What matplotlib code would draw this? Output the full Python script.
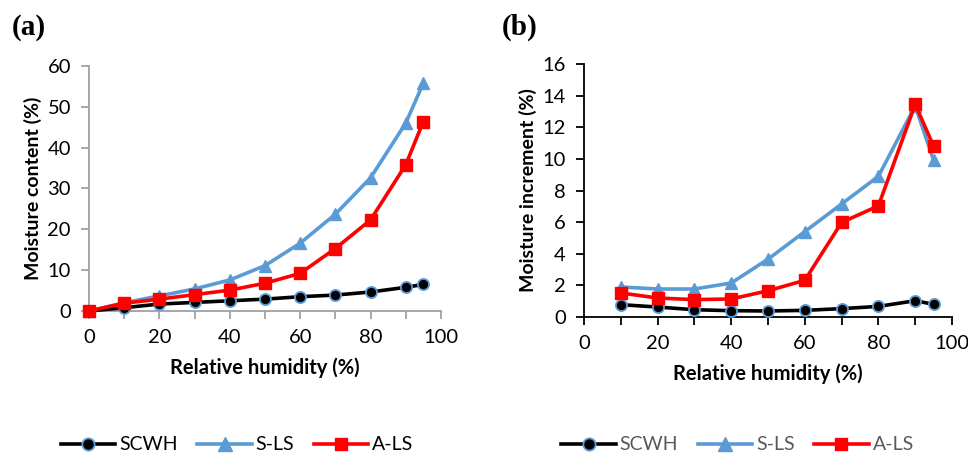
import matplotlib.pyplot as plt
from matplotlib.ticker import MultipleLocator

plt.rcParams['font.family'] = ['Lato', 'DejaVu Sans']

rh_a = [0, 10, 20, 30, 40, 50, 60, 70, 80, 90, 95]
scwh_a = [0, 0.8, 1.7, 2.1, 2.5, 2.9, 3.5, 3.9, 4.65, 5.8, 6.5]
sls_a = [0, 2.0, 3.7, 5.4, 7.6, 11.1, 16.6, 23.7, 32.6, 46.0, 55.8]
als_a = [0, 1.9, 2.9, 4.0, 5.1, 6.8, 9.2, 15.3, 22.3, 35.8, 46.4]

rh_b = [10, 20, 30, 40, 50, 60, 70, 80, 90, 95]
scwh_b = [0.78, 0.63, 0.46, 0.4, 0.38, 0.42, 0.53, 0.67, 1.03, 0.8]
sls_b = [1.9, 1.77, 1.77, 2.15, 3.66, 5.4, 7.15, 8.9, 13.35, 9.9]
als_b = [1.52, 1.2, 1.1, 1.14, 1.66, 2.32, 5.98, 7.03, 13.45, 10.8]

names = ['SCWH', 'S-LS', 'A-LS']
blue = '#5B9BD5'
red = '#FF0000'

fig = plt.figure(figsize=(9.68, 4.55), dpi=100)
ax1 = fig.add_axes([0.0919, 0.3165, 0.3636, 0.5385])
ax2 = fig.add_axes([0.6033, 0.3033, 0.3802, 0.556])


def draw(ax, x, s1, s2, s3, axcol):
    h1, = ax.plot(x, s1, '-o', color='black', lw=2.6, ms=8,
                  mfc='black', mec=blue, mew=1.3, zorder=3, clip_on=False)
    h2, = ax.plot(x, s2, '-^', color=blue, lw=2.6, ms=9,
                  mfc=blue, mec=blue, zorder=2, clip_on=False)
    h3, = ax.plot(x, s3, '-s', color=red, lw=2.6, ms=8.5,
                  mfc=red, mec=red, zorder=4, clip_on=False)
    for side in ['top', 'right']:
        ax.spines[side].set_visible(False)
    for side in ['left', 'bottom']:
        ax.spines[side].set_color(axcol)
        ax.spines[side].set_linewidth(1.3)
    ax.tick_params(which='both', direction='out', length=6, width=1.3, colors=axcol,
                   labelsize=14.5, labelcolor='black', pad=7)
    ax.set_xlim(0, 100)
    ax.set_xticks(range(0, 101, 20))
    ax.xaxis.set_minor_locator(MultipleLocator(10))
    ax.set_xlabel('Relative humidity (%)', fontsize=14.5, fontweight='bold', labelpad=8)
    return [h1, h2, h3]


hs = draw(ax1, rh_a, scwh_a, sls_a, als_a, '#A0A0A0')
ax1.set_ylim(0, 60)
ax1.set_yticks(range(0, 61, 10))
ax1.set_ylabel('Moisture content (%)', fontsize=14, fontweight='bold', labelpad=4)

hs2 = draw(ax2, rh_b, scwh_b, sls_b, als_b, 'black')
ax2.set_ylim(0, 16)
ax2.set_yticks(range(0, 17, 2))
ax2.set_ylabel('Moisture increment (%)', fontsize=14, fontweight='bold', labelpad=4)

fig.text(0.012, 0.94, '(a)', fontsize=21, fontweight='bold', family='Liberation Serif',
         va='center')
fig.text(0.518, 0.94, '(b)', fontsize=21, fontweight='bold', family='Liberation Serif',
         va='center')

fig.legend(hs, names, loc='center', bbox_to_anchor=(0.245, 0.022), ncol=3,
           frameon=False, fontsize=14, handlelength=2.8, columnspacing=1.0,
           handletextpad=0.2, markerscale=1.1)
leg2 = fig.legend(hs2, names, loc='center', bbox_to_anchor=(0.762, 0.022), ncol=3,
                  frameon=False, fontsize=14, handlelength=2.8, columnspacing=1.0,
                  handletextpad=0.2, markerscale=1.1)
for t in leg2.get_texts():
    t.set_color('#595959')

fig.savefig('out.png', dpi=100)
